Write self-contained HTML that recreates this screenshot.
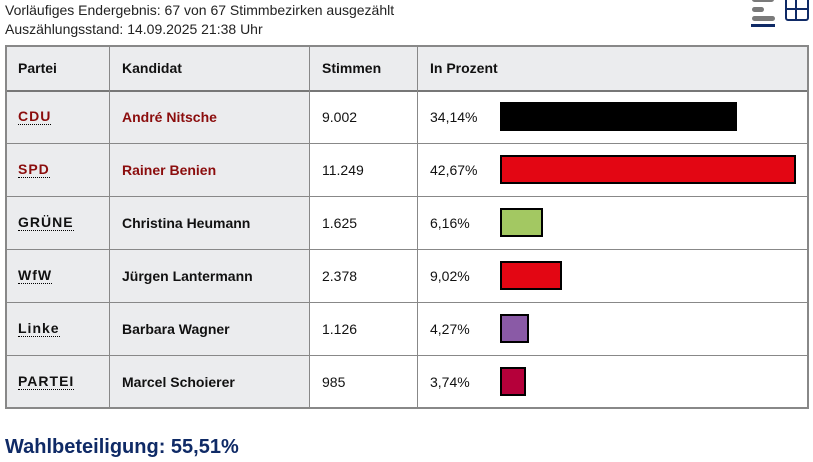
<!DOCTYPE html>
<html><head><meta charset="utf-8"><style>
*{margin:0;padding:0;box-sizing:border-box}
body{width:813px;height:462px;background:#fff;font-family:"Liberation Sans",Arial,sans-serif;position:relative;overflow:hidden;color:#111}
.a{position:absolute}
.hdr{font-size:14px;color:#222}
.cell{position:absolute;font-size:14px;display:flex;align-items:center}
.b{font-weight:bold}
.p{font-weight:bold;letter-spacing:1px;border-bottom:1px dotted #000;line-height:15px}
.red{color:#8b0d0d}
.bar{position:absolute;border:2px solid #000;height:29px}
.hl{position:absolute;left:5px;width:804px;height:1px;background:#888}
.vl{position:absolute;top:45px;height:364px;width:1px;background:#888}
</style></head><body>
<div class="a hdr" style="left:5px;top:2px">Vorläufiges Endergebnis: 67 von 67 Stimmbezirken ausgezählt</div>
<div class="a hdr" style="left:5px;top:21px">Auszählungsstand: 14.09.2025 21:38 Uhr</div>
<!-- icons -->
<div class="a" style="left:752px;top:-3px;width:22px;height:5px;border-radius:3px;background:#7a7a7a"></div>
<div class="a" style="left:752px;top:7px;width:12px;height:5px;border-radius:3px;background:#7a7a7a"></div>
<div class="a" style="left:752px;top:16px;width:23px;height:5px;border-radius:3px;background:#7a7a7a"></div>
<div class="a" style="left:751px;top:24px;width:24px;height:3px;background:#0f2a66"></div>
<div class="a" style="left:785px;top:-3px;width:24px;height:24px;border:2px solid #0f2a66;border-radius:3px"></div>
<div class="a" style="left:787px;top:8px;width:20px;height:2px;background:#0f2a66"></div>
<div class="a" style="left:795px;top:0px;width:2px;height:19px;background:#0f2a66"></div>
<!-- table backgrounds -->
<div class="a" style="left:5px;top:45px;width:804px;height:45px;background:#ebecee"></div>
<div class="a" style="left:5px;top:90px;width:304px;height:318px;background:#ebecee"></div>
<!-- lines -->
<div class="hl" style="top:90px;height:2px;background:#777"></div>
<div class="hl" style="top:143px"></div>
<div class="hl" style="top:196px"></div>
<div class="hl" style="top:249px"></div>
<div class="hl" style="top:302px"></div>
<div class="hl" style="top:355px"></div>
<div class="vl" style="left:109px"></div>
<div class="vl" style="left:309px"></div>
<div class="vl" style="left:417px"></div>
<div class="a" style="left:5px;top:45px;width:804px;height:364px;border:2px solid #888"></div>
<!-- header text -->
<div class="cell b" style="left:18px;top:45px;height:45px">Partei</div>
<div class="cell b" style="left:122px;top:45px;height:45px">Kandidat</div>
<div class="cell b" style="left:322px;top:45px;height:45px">Stimmen</div>
<div class="cell b" style="left:430px;top:45px;height:45px">In Prozent</div>
<!-- rows -->
<div class="cell" style="left:18px;top:91px;height:52px"><span class="p red">CDU</span></div>
<div class="cell b red" style="left:122px;top:91px;height:52px">André Nitsche</div>
<div class="cell" style="left:322px;top:91px;height:52px">9.002</div>
<div class="cell" style="left:430px;top:91px;height:52px">34,14%</div>
<div class="bar" style="left:500px;top:102px;width:237px;background:#000"></div>

<div class="cell" style="left:18px;top:144px;height:52px"><span class="p red">SPD</span></div>
<div class="cell b red" style="left:122px;top:144px;height:52px">Rainer Benien</div>
<div class="cell" style="left:322px;top:144px;height:52px">11.249</div>
<div class="cell" style="left:430px;top:144px;height:52px">42,67%</div>
<div class="bar" style="left:500px;top:155px;width:296px;background:#e30613"></div>

<div class="cell" style="left:18px;top:197px;height:52px"><span class="p">GRÜNE</span></div>
<div class="cell b" style="left:122px;top:197px;height:52px">Christina Heumann</div>
<div class="cell" style="left:322px;top:197px;height:52px">1.625</div>
<div class="cell" style="left:430px;top:197px;height:52px">6,16%</div>
<div class="bar" style="left:500px;top:208px;width:43px;background:#a3c862"></div>

<div class="cell" style="left:18px;top:250px;height:52px"><span class="p">WfW</span></div>
<div class="cell b" style="left:122px;top:250px;height:52px">Jürgen Lantermann</div>
<div class="cell" style="left:322px;top:250px;height:52px">2.378</div>
<div class="cell" style="left:430px;top:250px;height:52px">9,02%</div>
<div class="bar" style="left:500px;top:261px;width:62px;background:#e30613"></div>

<div class="cell" style="left:18px;top:303px;height:52px"><span class="p">Linke</span></div>
<div class="cell b" style="left:122px;top:303px;height:52px">Barbara Wagner</div>
<div class="cell" style="left:322px;top:303px;height:52px">1.126</div>
<div class="cell" style="left:430px;top:303px;height:52px">4,27%</div>
<div class="bar" style="left:500px;top:314px;width:29px;background:#8a5aa6"></div>

<div class="cell" style="left:18px;top:356px;height:52px"><span class="p">PARTEI</span></div>
<div class="cell b" style="left:122px;top:356px;height:52px">Marcel Schoierer</div>
<div class="cell" style="left:322px;top:356px;height:52px">985</div>
<div class="cell" style="left:430px;top:356px;height:52px">3,74%</div>
<div class="bar" style="left:500px;top:367px;width:26px;background:#b5003a"></div>

<div class="a" style="left:5px;top:436px;font-size:20px;font-weight:bold;color:#0f2a66">Wahlbeteiligung: 55,51%</div>
</body></html>
